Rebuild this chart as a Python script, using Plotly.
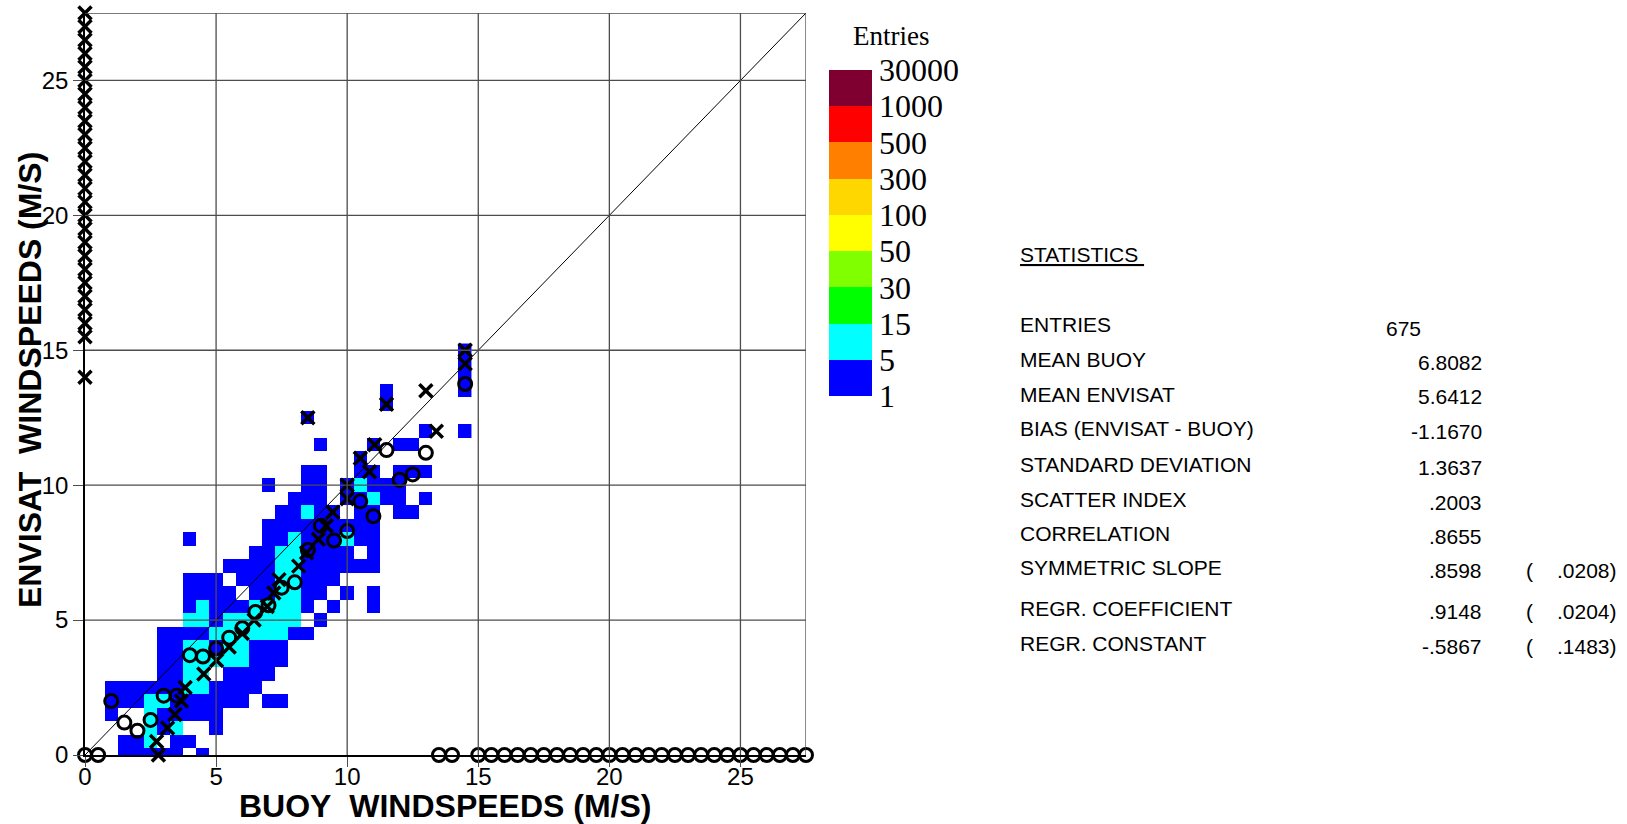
import plotly.graph_objects as go

# ---------------- data ----------------
AXIS_MAX = 27.5
AXIS_TICKS = [0, 5, 10, 15, 20, 25]
X_TITLE = "BUOY\u00a0 WINDSPEEDS (M/S)"
Y_TITLE = "ENVISAT\u00a0 WINDSPEEDS (M/S)"

# 2-D histogram cells (0.5 m/s bins). Centres of the columns (buoy) and rows (envisat)
cell_buoy = [k / 2 for k in range(30)]        # 0.0 .. 14.5
cell_envisat = [k / 2 for k in range(31)]     # 0.0 .. 15.0

# Count class of each cell: '.' none, 'b' 1-4 entries, 'c' 5-14 entries
# rows listed from ENVISAT = 15.0 (top) down to 0.0 (bottom); columns BUOY = 0.0 .. 14.5
count_class_rows = [
    ".............................b",  # 15.0
    ".............................b",  # 14.5
    ".............................b",  # 14.0
    ".......................b.....b",  # 13.5
    ".......................b......",  # 13.0
    ".................b............",  # 12.5
    "..........................b..b",  # 12.0
    "..................b...b.bb....",  # 11.5
    ".....................b........",  # 11.0
    ".................bb..bb.bbb...",  # 10.5
    "..............b..bb.bcbbb.....",  # 10.0
    "................bbb.bbcbb.b...",  # 9.5
    "...............bbcbb.bb.bb....",  # 9.0
    "..............bbbbbbbbb.......",  # 8.5
    "........b.....bbcbbbcbb.......",  # 8.0
    ".............bbccbbbb.b.......",  # 7.5
    "...........bbbbccbbbbbb.......",  # 7.0
    "........bbb.bbbccbbb..........",  # 6.5
    "........bbbb.bbccbb.b.b.......",  # 6.0
    "........bcbbbccccb.b..b.......",  # 5.5
    "........ccbcccccc.b...........",  # 5.0
    "......bbbbccccccbb............",  # 4.5
    "......bbccbccbbb..............",  # 4.0
    "......bbcccccbbb..............",  # 3.5
    "......bbcc.bbbb...............",  # 3.0
    "..bbbbbbccbbbb................",  # 2.5
    "..bbbccbbbbbb.bb..............",  # 2.0
    "..b..cbbbbb...................",  # 1.5
    ".....cbc..b...................",  # 1.0
    "...bbc.bb.....................",  # 0.5
    "...bbbbb.b....................",  # 0.0
]
CLASS_INDEX = {".": None, "b": 0, "c": 1}

# colour classes of the "Entries" scale
entry_levels = ["1", "5", "15", "30", "50", "100", "300", "500", "1000", "30000"]
level_colors = ["#0000FF", "#00FFFF", "#00FF00", "#80FF00", "#FFFF00",
                "#FFD700", "#FF8000", "#FF0000", "#7F0030"]

# bin means (0.5 m/s bins, 0 where a bin is empty)
bin_centres = [k / 2 for k in range(56)]  # 0.0 .. 27.5
envisat_mean_per_buoy_bin = [
    0, 0, 2.0, 1.2, 0.9, 1.3, 2.2, 2.2, 3.7, 3.65,
    3.95, 4.35, 4.7, 5.3, 5.55, 6.2, 6.4, 7.6, 8.5, 7.95,
    8.3, 9.4, 8.85, 11.3, 10.2, 10.4, 11.2, 0, 0, 13.75,
    0, 0, 0, 0, 0, 0, 0, 0, 0, 0,
    0, 0, 0, 0, 0, 0, 0, 0, 0, 0,
    0, 0, 0, 0, 0, 0,
]
buoy_mean_per_envisat_bin = [
    2.8, 2.73, 3.15, 3.43, 3.68, 3.82, 4.53, 5.02, 5.5, 6.0,
    6.45, 6.95, 7.2, 7.4, 8.15, 8.45, 8.9, 9.2, 9.45, 10.0,
    10.0, 10.85, 10.5, 11.05, 13.4, 8.5, 11.5, 13.0, 0, 14.5,
    14.5, 0, 0, 0, 0, 0, 0, 0, 0, 0,
    0, 0, 0, 0, 0, 0, 0, 0, 0, 0,
    0, 0, 0, 0, 0, 0,
]

stat_labels = ["ENTRIES", "MEAN BUOY", "MEAN ENVISAT", "BIAS (ENVISAT - BUOY)",
               "STANDARD DEVIATION", "SCATTER INDEX", "CORRELATION",
               "SYMMETRIC SLOPE", "REGR. COEFFICIENT", "REGR. CONSTANT"]
stat_values = ["675", "6.8082", "5.6412", "-1.1670", "1.3637", ".2003",
               ".8655", ".8598", ".9148", "-.5867"]
stat_errors = [None, None, None, None, None, None, None, ".0208", ".0204", ".1483"]

# ---------------- layout geometry (pixels) ----------------
W, H = 1627, 824
PL, PR, PT, PB = 85, 806, 13, 755
SANS = "Liberation Sans, Arial, sans-serif"
SERIF = "Liberation Serif, Times New Roman, serif"
GRID = "#4d4d4d"
STAT_SIZE = 21


def px(xp):
    return (xp - PL) / (PR - PL)


def py(yp):
    return (PB - yp) / (PB - PT)


# ---------------- figure ----------------
z = []
for row in reversed(count_class_rows):
    zr = []
    for ch in row:
        idx = CLASS_INDEX[ch]
        zr.append(None if idx is None else idx + 0.5)
    z.append(zr)

nlev = len(level_colors)
colorscale = []
for i, c in enumerate(level_colors):
    colorscale.append([i / nlev, c])
    colorscale.append([(i + 1) / nlev, c])

fig = go.Figure()
fig.add_trace(go.Heatmap(
    x=cell_buoy, y=cell_envisat, z=z,
    zmin=0, zmax=nlev, colorscale=colorscale, hoverongaps=False,
    colorbar=dict(
        tickvals=list(range(len(entry_levels))), ticktext=entry_levels,
        ticks="", tickfont=dict(family=SERIF, size=32, color="black"),
        thickness=43, thicknessmode="pixels",
        len=326, lenmode="pixels",
        x=px(829), xanchor="left", xpad=0,
        y=py(70), yanchor="top", ypad=0,
        outlinewidth=0,
    ),
))

# 1:1 line
fig.add_trace(go.Scatter(x=[0, AXIS_MAX], y=[0, AXIS_MAX], mode="lines",
                         line=dict(color="black", width=1), hoverinfo="skip"))

# mean ENVISAT per buoy bin (circles)
fig.add_trace(go.Scatter(
    x=bin_centres, y=envisat_mean_per_buoy_bin, mode="markers", cliponaxis=False,
    marker=dict(symbol="circle-open", size=13, color="black",
                line=dict(width=3, color="black"))))

# mean buoy per ENVISAT bin (crosses)
fig.add_trace(go.Scatter(
    x=buoy_mean_per_envisat_bin, y=bin_centres, mode="markers", cliponaxis=False,
    marker=dict(symbol="x-thin-open", size=13, color="black",
                line=dict(width=3.5, color="black"))))

shapes = []
for t in AXIS_TICKS[1:] + [AXIS_MAX]:
    shapes.append(dict(type="line", xref="x", yref="y", x0=t, x1=t, y0=0, y1=AXIS_MAX,
                       line=dict(color=GRID, width=1.3), layer="above"))
    shapes.append(dict(type="line", xref="x", yref="y", y0=t, y1=t, x0=0, x1=AXIS_MAX,
                       line=dict(color=GRID, width=1.3), layer="above"))

annotations = []
# axis titles
annotations.append(dict(text=X_TITLE, xref="paper", yref="paper",
                        x=px(445), y=py(806), xanchor="center", yanchor="middle",
                        showarrow=False,
                        font=dict(family=SANS, size=32, color="black", weight="bold")))
annotations.append(dict(text=Y_TITLE, xref="paper", yref="paper", textangle=-90,
                        x=px(30), y=py(380), xanchor="center", yanchor="middle",
                        showarrow=False,
                        font=dict(family=SANS, size=32, color="black", weight="bold")))
# colour scale title
annotations.append(dict(text="Entries", xref="paper", yref="paper",
                        x=px(891), y=py(36), xanchor="center", yanchor="middle",
                        showarrow=False, font=dict(family=SERIF, size=27, color="black")))
# statistics block
annotations.append(dict(text="<u>STATISTICS\u00a0</u>", xref="paper", yref="paper",
                        x=px(1018), y=py(254), xanchor="left", yanchor="middle",
                        showarrow=False, font=dict(family=SANS, size=STAT_SIZE, color="black")))
row_y = [324, 359, 394, 428.5, 464, 499, 533, 567.6, 608, 643]
for i, lab in enumerate(stat_labels):
    annotations.append(dict(text=lab, xref="paper", yref="paper",
                            x=px(1018), y=py(row_y[i]), xanchor="left", yanchor="middle",
                            showarrow=False, font=dict(family=SANS, size=STAT_SIZE, color="black")))
    if i == 0:
        annotations.append(dict(text=stat_values[i], xref="paper", yref="paper",
                                x=px(1384), y=py(row_y[i] + 4), xanchor="left",
                                yanchor="middle", showarrow=False,
                                font=dict(family=SANS, size=STAT_SIZE, color="black")))
    else:
        annotations.append(dict(text=stat_values[i], xref="paper", yref="paper",
                                x=px(1484), y=py(row_y[i] + 3), xanchor="right",
                                yanchor="middle", showarrow=False,
                                font=dict(family=SANS, size=STAT_SIZE, color="black")))
    if stat_errors[i] is not None:
        annotations.append(dict(text="(", xref="paper", yref="paper",
                                x=px(1524), y=py(row_y[i] + 3), xanchor="left",
                                yanchor="middle", showarrow=False,
                                font=dict(family=SANS, size=STAT_SIZE, color="black")))
        annotations.append(dict(text=stat_errors[i] + ")", xref="paper", yref="paper",
                                x=px(1619), y=py(row_y[i] + 3), xanchor="right",
                                yanchor="middle", showarrow=False,
                                font=dict(family=SANS, size=STAT_SIZE, color="black")))

axis_common = dict(
    range=[0, AXIS_MAX], tickvals=AXIS_TICKS, showgrid=False, zeroline=False,
    ticks="outside", ticklen=10, tickwidth=1.3, tickcolor=GRID,
    showline=True, linecolor="black", automargin=False,
    tickfont=dict(family=SANS, size=24, color="black"),
)

fig.update_layout(
    width=W, height=H,
    margin=dict(l=PL, r=W - PR, t=PT, b=H - PB),
    paper_bgcolor="white", plot_bgcolor="white",
    showlegend=False,
    xaxis=dict(**axis_common, linewidth=2, ticklabelstandoff=-11),
    yaxis=dict(**axis_common, linewidth=1.5),
    shapes=shapes,
    annotations=annotations,
)

fig.write_html("out.html")
